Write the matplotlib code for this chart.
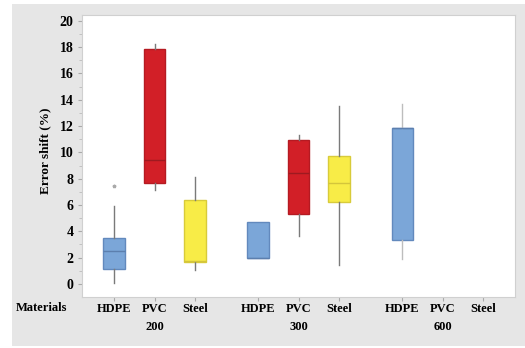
import matplotlib.pyplot as plt
from matplotlib.patches import Rectangle
from matplotlib.ticker import MultipleLocator

plt.rcParams['font.family'] = ['Liberation Serif', 'DejaVu Serif']

materials = ["HDPE", "PVC", "Steel"]
groups = ["200", "300", "600"]

# box statistics per (group, material); None where no data
q1 = [1.14, 7.67, 1.70, 1.95, 5.29, 6.25, 3.32, None, None]
med = [2.49, 9.42, 1.75, 1.95, 8.43, 7.67, 11.85, None, None]
q3 = [3.47, 17.83, 6.36, 4.73, 10.91, 9.74, 11.85, None, None]
whislo = [0.05, 7.14, 1.06, 1.95, 3.67, 1.44, 1.92, None, None]
whishi = [5.95, 18.2, 8.15, 4.73, 11.31, 13.54, 13.65, None, None]
outliers = [[7.47], [], [], [], [], [], [], [], []]

fills = {"HDPE": "#7BA6D8", "PVC": "#D21F27", "Steel": "#F8EC47"}
edges = {"HDPE": "#6289BD", "PVC": "#B51A22", "Steel": "#D8CB3A"}
medc = {"HDPE": "#5C7FAE", "PVC": "#9E1A20", "Steel": "#D4C53B"}

group_gap = 3.56
positions = [g * group_gap + m for g in range(3) for m in range(3)]
labels = [m for g in groups for m in materials]

fig = plt.figure(figsize=(5.25, 3.48), dpi=100, facecolor="white")
fig.patches.append(Rectangle((12 / 525, 2 / 348), 513 / 525, 342 / 348,
                             transform=fig.transFigure, facecolor="#E6E6E6",
                             edgecolor="none", zorder=-10))

ax = fig.add_axes([82 / 525, 51 / 348, 433 / 525, 282 / 348])
ax.set_facecolor("white")

for i, pos in enumerate(positions):
    if q1[i] is None:
        continue
    mat = labels[i]
    whis_col = "#BDBDBD" if i == 6 else "#7A7A7A"
    stats = [dict(q1=q1[i], med=med[i], q3=q3[i], whislo=whislo[i],
                  whishi=whishi[i], fliers=outliers[i])]
    ax.bxp(stats, positions=[pos], widths=0.53, patch_artist=True,
           showcaps=False, manage_ticks=False,
           boxprops=dict(facecolor=fills[mat], edgecolor=edges[mat], linewidth=1),
           medianprops=dict(color=medc[mat], linewidth=1),
           whiskerprops=dict(color=whis_col, linewidth=1),
           flierprops=dict(marker="*", markersize=2.5, markerfacecolor="#AAAAAA",
                           markeredgecolor="#AAAAAA"))

ax.set_xlim(-0.79, 9.9)
ax.set_ylim(-0.99, 20.44)
ax.yaxis.set_major_locator(MultipleLocator(2))
ax.yaxis.set_minor_locator(MultipleLocator(1))
ax.set_xticks(positions)
ax.set_xticklabels(labels, fontsize=9, fontweight="bold")
for lab in ax.get_yticklabels():
    lab.set_fontweight("bold")
ax.tick_params(axis="y", labelsize=10, length=3, color="#AAAAAA", pad=3)
ax.tick_params(axis="y", which="minor", length=2, color="#BBBBBB")
ax.tick_params(axis="x", length=3, color="#AAAAAA", pad=1.5)
for s in ax.spines.values():
    s.set_color("#D0D0D0")
    s.set_linewidth(0.8)

ax.set_ylabel("Error shift (%)", fontsize=9.5, fontweight="bold")
ax.yaxis.set_label_coords(-0.072, 0.52)

tr = ax.get_xaxis_transform()
for g, name in enumerate(groups):
    ax.text(g * group_gap + 1, -0.106, name, transform=tr, ha="center",
            va="center", fontsize=9, fontweight="bold")
fig.text(41 / 525, 1 - 308 / 348, "Materials", ha="center", va="center",
         fontsize=9, fontweight="bold")

fig.savefig("out.png", dpi=100, facecolor="white")
